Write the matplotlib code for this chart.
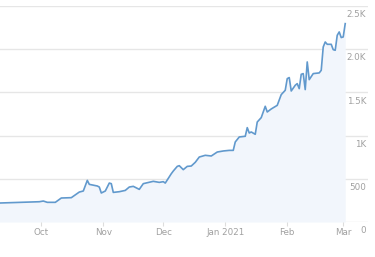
import pandas as pd
import matplotlib.pyplot as plt
import matplotlib.transforms as mtransforms

# Cumulative count per day
dates = [
    "2020-09-05", "2020-09-10", "2020-09-30", "2020-10-02", "2020-10-04", "2020-10-08",
    "2020-10-11", "2020-10-16", "2020-10-20", "2020-10-22", "2020-10-24", "2020-10-25",
    "2020-10-29", "2020-10-30", "2020-10-31", "2020-11-02", "2020-11-04", "2020-11-05",
    "2020-11-06", "2020-11-09", "2020-11-12", "2020-11-14", "2020-11-16", "2020-11-19",
    "2020-11-21", "2020-11-26", "2020-11-29", "2020-12-01", "2020-12-02", "2020-12-05",
    "2020-12-06", "2020-12-08", "2020-12-09", "2020-12-11", "2020-12-13", "2020-12-15",
    "2020-12-17", "2020-12-19", "2020-12-22", "2020-12-25", "2020-12-28", "2020-12-31",
    "2021-01-03", "2021-01-05", "2021-01-06", "2021-01-08", "2021-01-11", "2021-01-12",
    "2021-01-13", "2021-01-14", "2021-01-16", "2021-01-17", "2021-01-19", "2021-01-21",
    "2021-01-22", "2021-01-24", "2021-01-27", "2021-01-29", "2021-01-31", "2021-02-01",
    "2021-02-02", "2021-02-03", "2021-02-05", "2021-02-06", "2021-02-07", "2021-02-08",
    "2021-02-09", "2021-02-10", "2021-02-11", "2021-02-12", "2021-02-14", "2021-02-17",
    "2021-02-18", "2021-02-19", "2021-02-20", "2021-02-21", "2021-02-23", "2021-02-24",
    "2021-02-25", "2021-02-26", "2021-02-27", "2021-02-28", "2021-03-01", "2021-03-02",
]
values = [
    218, 220, 235, 243, 228, 228,
    278, 282, 347, 359, 482, 436,
    417, 405, 336, 359, 451, 444,
    343, 351, 366, 405, 413, 378,
    444, 471, 459, 467, 451, 559,
    590, 644, 652, 606, 644, 648,
    691, 752, 772, 764, 810, 822,
    829, 829, 926, 984, 992, 1092,
    1030, 1042, 1015, 1157, 1208, 1339,
    1273, 1308, 1350, 1474, 1524, 1659,
    1671, 1516, 1582, 1601, 1543, 1709,
    1717, 1532, 1852, 1647, 1717, 1725,
    1755, 2025, 2083, 2056, 2056, 1994,
    1987, 2160, 2199, 2134, 2141, 2295,
]
y_ticks = [0, 500, 1000, 1500, 2000, 2500]
y_labels = ["0", "500", "1K", "1.5K", "2.0K", "2.5K"]
x_ticks = ["2020-10-01", "2020-11-01", "2020-12-01", "2021-01-01", "2021-02-01", "2021-03-01"]
x_labels = ["Oct", "Nov", "Dec", "Jan 2021", "Feb", "Mar"]

x = pd.to_datetime(dates)
grey = "#a0a0a0"

fig = plt.figure(figsize=(3.75, 2.57), dpi=100)
ax = fig.add_axes([0, 0.136, 0.981, 0.841])

ax.fill_between(x, values, 0, color="#f2f6fc", lw=0)
ax.plot(x, values, color="#6199cd", lw=1.2)

ax.set_xlim(pd.Timestamp("2020-09-10 08:00"), pd.Timestamp("2021-03-13 08:00"))
ax.set_ylim(0, 2500)

for v in y_ticks:
    ax.axhline(v, color="#e6e6e6", lw=1, zorder=0)

# y labels sit just under their gridline at the right edge
trans = mtransforms.blended_transform_factory(ax.transAxes, ax.transData)
for v, lab in zip(y_ticks, y_labels):
    ax.text(0.995, v - 50, lab, transform=trans, ha="right", va="top",
            fontsize=6.3, color=grey)

ax.set_xticks(pd.to_datetime(x_ticks))
ax.set_xticklabels(x_labels)
ax.tick_params(axis="x", length=3, color="#dddddd", labelsize=6.3, labelcolor=grey, pad=1.5)
ax.set_yticks([])
for s in ax.spines.values():
    s.set_visible(False)

plt.savefig("out.png", dpi=100)
